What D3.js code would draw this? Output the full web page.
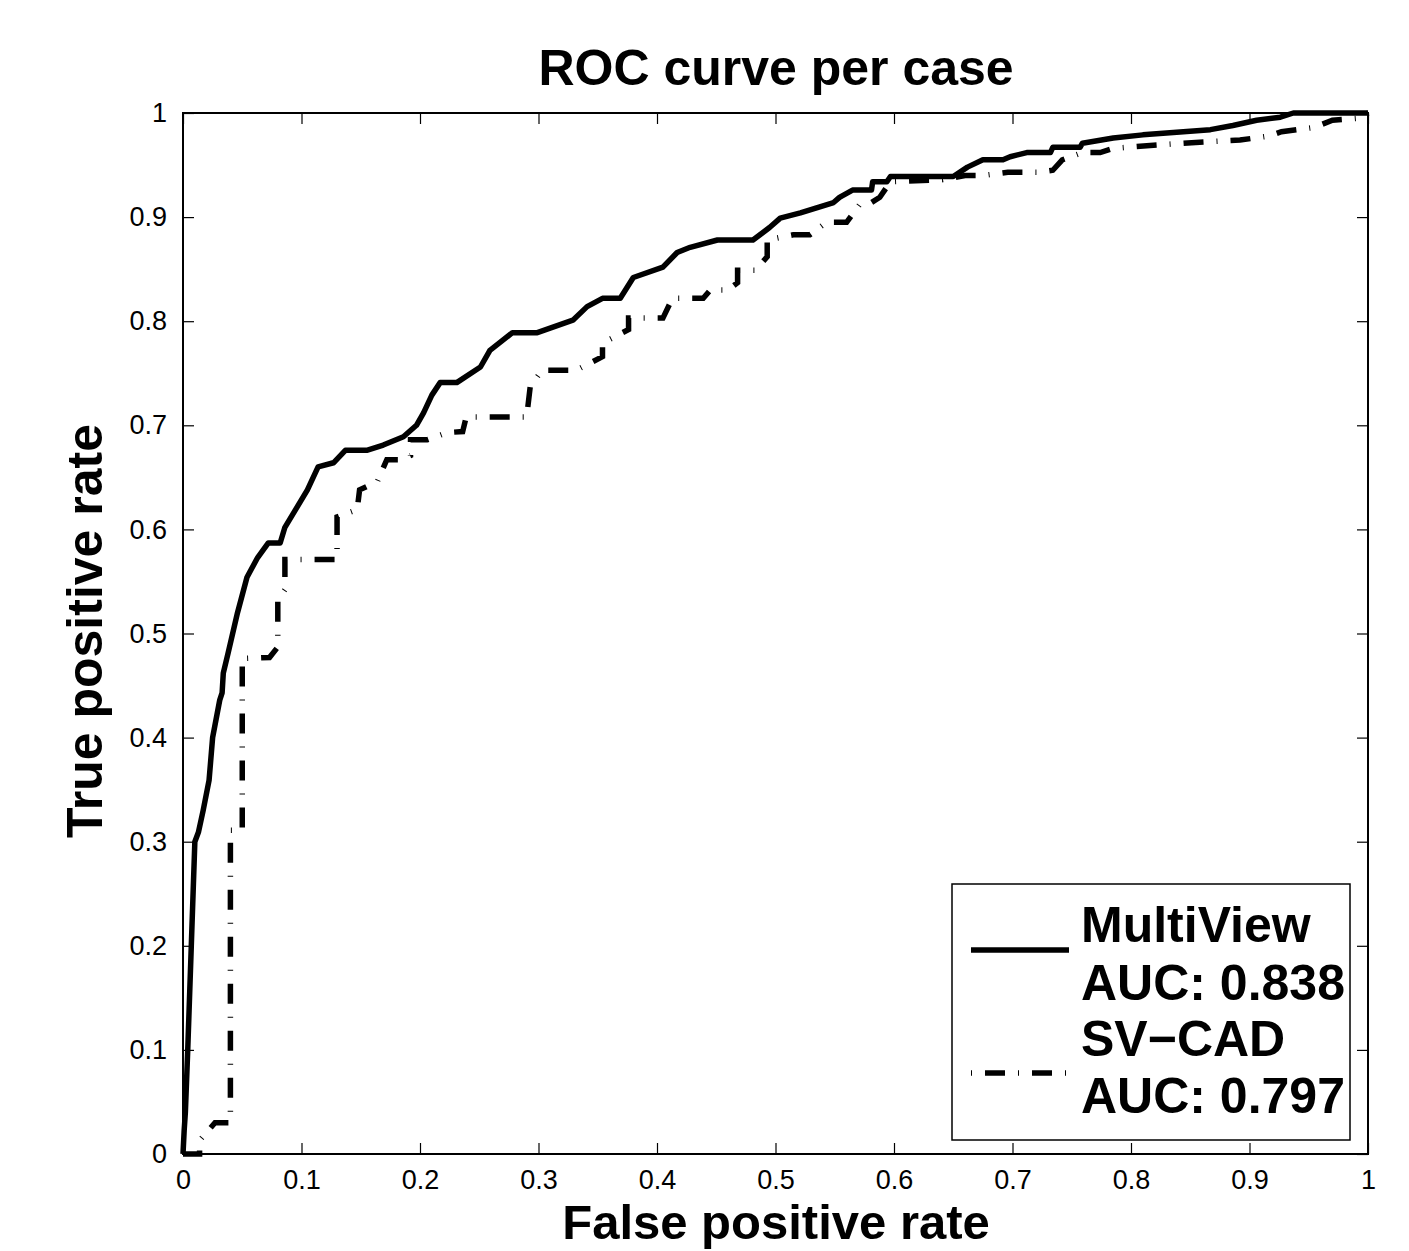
<!DOCTYPE html>
<html>
<head>
<meta charset="utf-8">
<script src="https://cdn.jsdelivr.net/npm/d3@7"></script>
<style>
  html, body { margin: 0; padding: 0; background: #fff; }
  svg { display: block; font-family: "Liberation Sans", Arial, Helvetica, sans-serif; }
</style>
</head>
<body>
<svg id="chart" width="1409" height="1251"></svg>
<script>
// ---- data ----
const xTicks = [0, 0.1, 0.2, 0.3, 0.4, 0.5, 0.6, 0.7, 0.8, 0.9, 1];
const yTicks = [0, 0.1, 0.2, 0.3, 0.4, 0.5, 0.6, 0.7, 0.8, 0.9, 1];
const seriesNames = ["MultiView", "SV\u2212CAD"];
const aucLabels = ["AUC: 0.838", "AUC: 0.797"];

const multiViewFPR = [0, 0.001, 0.002, 0.004, 0.007, 0.010, 0.013, 0.017, 0.022, 0.025, 0.031, 0.033, 0.034, 0.038, 0.046, 0.054, 0.063, 0.072, 0.082, 0.086, 0.095, 0.105, 0.114, 0.127, 0.137, 0.155, 0.169, 0.186, 0.197, 0.203, 0.210, 0.217, 0.231, 0.251, 0.259, 0.278, 0.299, 0.329, 0.341, 0.354, 0.369, 0.380, 0.405, 0.417, 0.428, 0.451, 0.481, 0.495, 0.504, 0.521, 0.549, 0.554, 0.565, 0.581, 0.582, 0.594, 0.597, 0.650, 0.662, 0.675, 0.692, 0.698, 0.712, 0.732, 0.734, 0.757, 0.759, 0.785, 0.810, 0.867, 0.886, 0.906, 0.926, 0.937, 1];
const multiViewTPR = [0, 0.023, 0.040, 0.100, 0.200, 0.300, 0.309, 0.330, 0.359, 0.400, 0.436, 0.443, 0.462, 0.481, 0.520, 0.554, 0.573, 0.587, 0.587, 0.602, 0.619, 0.638, 0.660, 0.664, 0.676, 0.676, 0.681, 0.689, 0.700, 0.712, 0.729, 0.741, 0.741, 0.756, 0.772, 0.789, 0.789, 0.801, 0.814, 0.822, 0.822, 0.842, 0.852, 0.866, 0.871, 0.878, 0.878, 0.890, 0.899, 0.904, 0.914, 0.919, 0.926, 0.926, 0.934, 0.934, 0.939, 0.939, 0.948, 0.955, 0.955, 0.958, 0.962, 0.962, 0.967, 0.967, 0.971, 0.976, 0.979, 0.984, 0.988, 0.993, 0.996, 1.000, 1];

const svCadFPR = [0, 0.014, 0.014, 0.027, 0.040, 0.040, 0.050, 0.050, 0.073, 0.080, 0.080, 0.086, 0.086, 0.130, 0.130, 0.147, 0.149, 0.164, 0.172, 0.183, 0.192, 0.192, 0.206, 0.223, 0.236, 0.239, 0.290, 0.293, 0.303, 0.332, 0.354, 0.354, 0.376, 0.376, 0.405, 0.413, 0.439, 0.445, 0.460, 0.468, 0.468, 0.483, 0.493, 0.493, 0.515, 0.529, 0.543, 0.560, 0.571, 0.581, 0.588, 0.597, 0.641, 0.660, 0.675, 0.696, 0.722, 0.734, 0.742, 0.759, 0.774, 0.785, 0.819, 0.858, 0.892, 0.917, 0.927, 0.954, 0.970, 0.993, 1];
const svCadTPR = [0, 0, 0.013, 0.030, 0.030, 0.311, 0.311, 0.476, 0.477, 0.487, 0.532, 0.542, 0.571, 0.571, 0.612, 0.619, 0.638, 0.646, 0.667, 0.667, 0.671, 0.686, 0.686, 0.693, 0.694, 0.708, 0.708, 0.737, 0.753, 0.753, 0.766, 0.779, 0.792, 0.803, 0.803, 0.822, 0.822, 0.830, 0.830, 0.837, 0.849, 0.849, 0.862, 0.878, 0.883, 0.883, 0.895, 0.895, 0.912, 0.914, 0.919, 0.934, 0.936, 0.940, 0.940, 0.943, 0.943, 0.945, 0.955, 0.962, 0.962, 0.966, 0.969, 0.972, 0.974, 0.978, 0.982, 0.986, 0.993, 0.995, 1];

// ---- layout ----
const svg = d3.select("#chart");
const pLeft = 183, pRight = 1368, pTop = 113, pBottom = 1154;
const x = d3.scaleLinear().domain([0, 1]).range([pLeft, pRight]);
const y = d3.scaleLinear().domain([0, 1]).range([pBottom, pTop]);
const fmt = d => (d === 0 ? "0" : d === 1 ? "1" : d3.format(".1f")(d));
const tickFont = 27;

// axes
const gB = svg.append("g").attr("transform", `translate(0,${pBottom})`)
  .call(d3.axisBottom(x).tickValues(xTicks).tickFormat(fmt).tickSizeInner(-11).tickSizeOuter(0).tickPadding(16));
const gL = svg.append("g").attr("transform", `translate(${pLeft},0)`)
  .call(d3.axisLeft(y).tickValues(yTicks).tickFormat(fmt).tickSizeInner(-11).tickSizeOuter(0).tickPadding(16));
const gT = svg.append("g").attr("transform", `translate(0,${pTop})`)
  .call(d3.axisTop(x).tickValues(xTicks).tickFormat("").tickSizeInner(-11).tickSizeOuter(0));
const gR = svg.append("g").attr("transform", `translate(${pRight},0)`)
  .call(d3.axisRight(y).tickValues(yTicks).tickFormat("").tickSizeInner(-11).tickSizeOuter(0));
[gB, gL, gT, gR].forEach(g => {
  g.select(".domain").remove();
  g.selectAll(".tick line").attr("stroke", "#000").attr("stroke-width", 1.2);
  g.selectAll(".tick text").attr("fill", "#000").style("font-size", tickFont + "px")
    .style("font-family", "'Liberation Sans', Arial, Helvetica, sans-serif");
});

// curves
const line = d3.line().x(d => x(d[0])).y(d => y(d[1]));
const mv = multiViewFPR.map((v, i) => [v, multiViewTPR[i]]);
const sv = svCadFPR.map((v, i) => [v, svCadTPR[i]]);
const dashPattern = "20,13,1,13";

svg.append("path").datum(sv).attr("d", line)
  .attr("fill", "none").attr("stroke", "#000").attr("stroke-width", 5.5)
  .attr("stroke-dasharray", dashPattern).attr("stroke-linecap", "butt").attr("stroke-linejoin", "miter");
svg.append("path").datum(mv).attr("d", line)
  .attr("fill", "none").attr("stroke", "#000").attr("stroke-width", 5.5)
  .attr("stroke-linejoin", "round").attr("stroke-linecap", "butt");

// axes box
svg.append("rect").attr("x", pLeft).attr("y", pTop).attr("width", pRight - pLeft).attr("height", pBottom - pTop)
  .attr("fill", "none").attr("stroke", "#000").attr("stroke-width", 2);

// title and labels
svg.append("text").attr("x", 776).attr("y", 85).attr("text-anchor", "middle")
  .style("font-size", "50px").style("font-weight", "bold").text("ROC curve per case");
svg.append("text").attr("x", 776).attr("y", 1239).attr("text-anchor", "middle")
  .style("font-size", "49px").style("font-weight", "bold").text("False positive rate");
svg.append("text").attr("transform", "translate(102,631) rotate(-90)").attr("text-anchor", "middle")
  .style("font-size", "50px").style("font-weight", "bold").text("True positive rate");

// legend
const lg = svg.append("g");
lg.append("rect").attr("x", 952).attr("y", 884).attr("width", 398).attr("height", 256)
  .attr("fill", "#fff").attr("stroke", "#000").attr("stroke-width", 1.5);
lg.append("line").attr("x1", 971).attr("x2", 1069).attr("y1", 950).attr("y2", 950)
  .attr("stroke", "#000").attr("stroke-width", 5.5);
lg.append("line").attr("x1", 971).attr("x2", 1069).attr("y1", 1073).attr("y2", 1073)
  .attr("stroke", "#000").attr("stroke-width", 5.5)
  .attr("stroke-dasharray", dashPattern).attr("stroke-dashoffset", 33);
const legendLines = [seriesNames[0], aucLabels[0], seriesNames[1], aucLabels[1]];
const baselines = [942, 1000, 1056, 1113];
legendLines.forEach((t, i) => {
  lg.append("text").attr("x", 1081).attr("y", baselines[i])
    .style("font-size", "50px").style("font-weight", "bold").text(t);
});
</script>
</body>
</html>
